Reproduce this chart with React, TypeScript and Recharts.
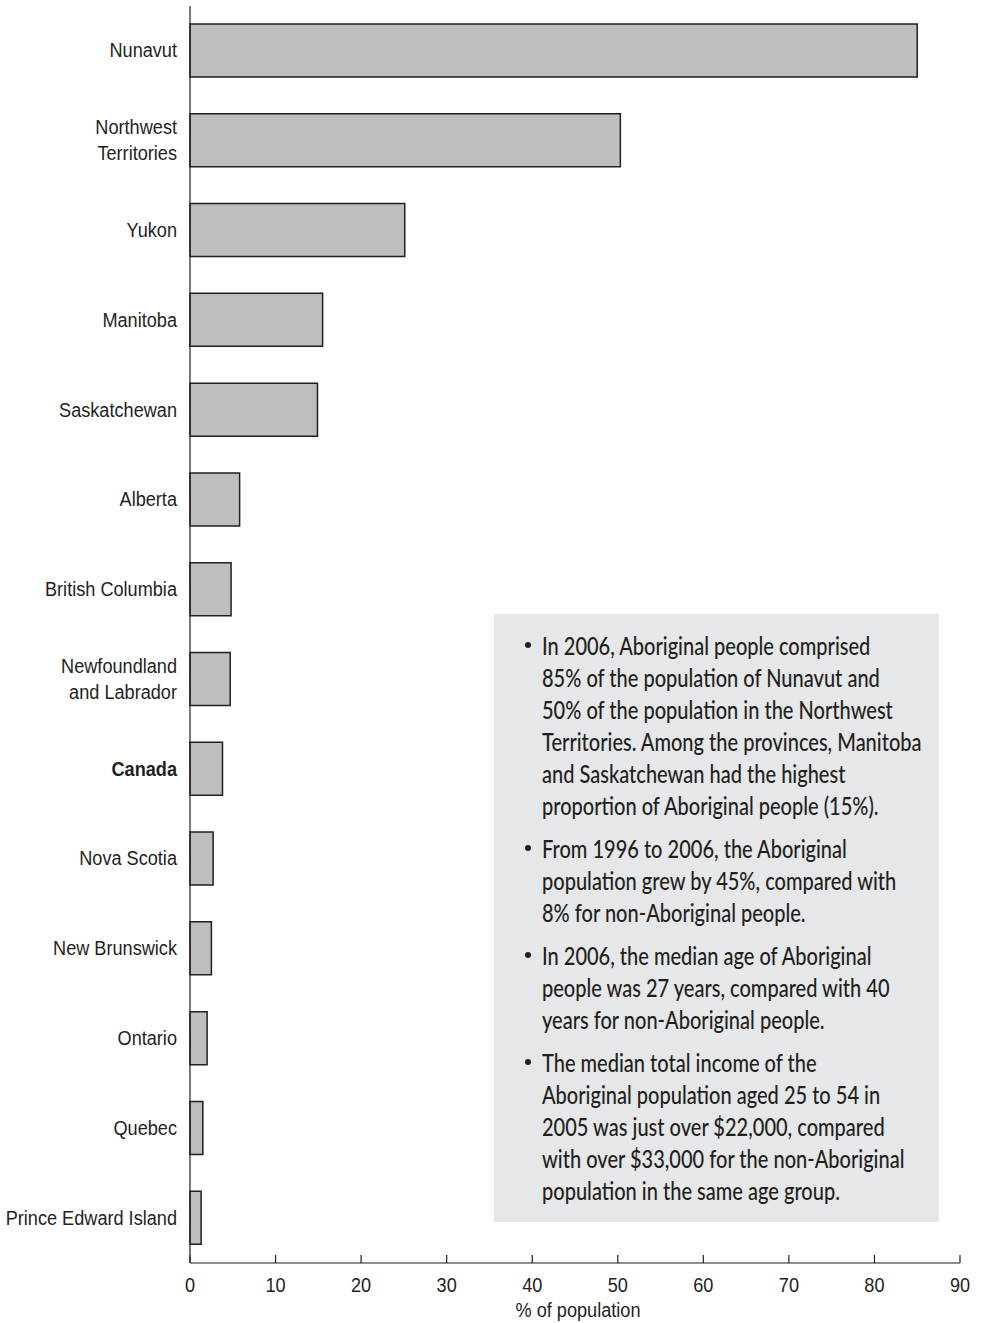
import React, { useMemo } from 'react';
import { BarChart, Bar, XAxis, YAxis } from 'recharts';

const provinces = [
  'Nunavut',
  'Northwest\nTerritories',
  'Yukon',
  'Manitoba',
  'Saskatchewan',
  'Alberta',
  'British Columbia',
  'Newfoundland\nand Labrador',
  'Canada',
  'Nova Scotia',
  'New Brunswick',
  'Ontario',
  'Quebec',
  'Prince Edward Island',
];
const aboriginalShare = [85, 50.3, 25.1, 15.5, 14.9, 5.8, 4.8, 4.7, 3.8, 2.7, 2.5, 2.0, 1.5, 1.3];
const xTicks = [0, 10, 20, 30, 40, 50, 60, 70, 80, 90];
const xTitle = '% of population';

const notes = [
  ['In 2006, Aboriginal people comprised', '85% of the population of Nunavut and', '50% of the population in the Northwest', 'Territories. Among the provinces, Manitoba', 'and Saskatchewan had the highest', 'proportion of Aboriginal people (15%).'],
  ['From 1996 to 2006, the Aboriginal', 'population grew by 45%, compared with', '8% for non-Aboriginal people.'],
  ['In 2006, the median age of Aboriginal', 'people was 27 years, compared with 40', 'years for non-Aboriginal people.'],
  ['The median total income of the', 'Aboriginal population aged 25 to 54 in', '2005 was just over $22,000, compared', 'with over $33,000 for the non-Aboriginal', 'population in the same age group.'],
];

const data = provinces.map((name, i) => ({ name, value: aboriginalShare[i] }));

const INK = '#231f20';
const LABEL_FONT = "'Liberation Sans', Arial, sans-serif";
const NARROW = 0.864;
const NOTE_FONT = "Lato, 'Open Sans', sans-serif";

// squeeze a regular face horizontally to look like the condensed original
const squeeze = (x: number) => `translate(${x},0) scale(${NARROW},1) translate(${-x},0)`;

function measure(text: string, font: string) {
  const ctx = document.createElement('canvas').getContext('2d');
  if (!ctx) return 1;
  ctx.font = font;
  return ctx.measureText(text).width;
}

const ProvinceTick = (props: any) => {
  const { x, y, payload } = props;
  const lines = String(payload.value).split('\n');
  const bold = payload.value === 'Canada';
  const lh = 26;
  const startY = y - 1 - ((lines.length - 1) * lh) / 2;
  return (
    <text
      x={x}
      y={startY}
      textAnchor="end"
      dominantBaseline="central"
      fontFamily={LABEL_FONT}
      fontSize={21}
      fontWeight={bold ? 700 : 400}
      fill={INK}
      transform={squeeze(x)}
    >
      {lines.map((l, i) => (
        <tspan key={i} x={x} y={startY + i * lh}>
          {l}
        </tspan>
      ))}
    </text>
  );
};

const PercentTick = (props: any) => {
  const { x, y, payload } = props;
  return (
    <g>
      <line x1={x} x2={x} y1={y} y2={y - 8} stroke={INK} strokeWidth={1.2} />
      <text x={x} y={y + 29} textAnchor="middle" fontFamily={LABEL_FONT} fontSize={21} fill={INK} transform={squeeze(x)}>
        {payload.value}
      </text>
    </g>
  );
};

const AxisTitle = (props: any) => {
  const vb = props.viewBox || {};
  const cx = vb.x + vb.width / 2 + 3;
  return (
    <text x={cx} y={vb.y + 54} textAnchor="middle" fontFamily={LABEL_FONT} fontSize={21} fill={INK} transform={squeeze(cx)}>
      {xTitle}
    </text>
  );
};

export default function App() {
  const noteScale = useMemo(() => 329 / measure(notes[0][0], `500 25px ${NOTE_FONT}`), []);
  return (
    <div style={{ position: 'absolute', left: 0, top: 0, width: 981, height: 1323, background: '#fff' }}>
      <BarChart
        width={981}
        height={1323}
        data={data}
        layout="vertical"
        margin={{ top: 6, right: 21, bottom: 0, left: 0 }}
      >
        <XAxis
          type="number"
          domain={[0, 90]}
          ticks={xTicks}
          interval={0}
          tickLine={false}
          tickSize={0}
          tickMargin={0}
          axisLine={{ stroke: INK, strokeWidth: 1.2 }}
          tick={<PercentTick />}
          height={60}
          label={<AxisTitle />}
        />
        <YAxis
          type="category"
          dataKey="name"
          width={190}
          tickLine={false}
          tickSize={0}
          tickMargin={13}
          axisLine={{ stroke: INK, strokeWidth: 1.2 }}
          tick={<ProvinceTick />}
          interval={0}
        />
        <Bar dataKey="value" barSize={53} fill="#bcbec0" stroke={INK} strokeWidth={1.5} isAnimationActive={false} />
      </BarChart>
      <div
        style={{
          position: 'absolute',
          left: 494,
          top: 614,
          width: 445,
          height: 608,
          background: '#e6e7e8',
          boxSizing: 'border-box',
          paddingTop: 15,
          paddingLeft: 48,
          fontFamily: NOTE_FONT,
          fontSize: 25,
          fontWeight: 500,
          lineHeight: '32px',
          color: INK,
        }}
      >
        {notes.map((para, i) => (
          <div key={i} style={{ position: 'relative', marginBottom: 11 }}>
            <div
              style={{
                position: 'absolute',
                left: -17,
                top: 13,
                width: 6,
                height: 6,
                borderRadius: 3,
                background: INK,
              }}
            />
            {para.map((line, j) => (
              <div
                key={j}
                style={{ whiteSpace: 'nowrap', transform: `scaleX(${noteScale})`, transformOrigin: 'left center' }}
              >
                {line}
              </div>
            ))}
          </div>
        ))}
      </div>
    </div>
  );
}
